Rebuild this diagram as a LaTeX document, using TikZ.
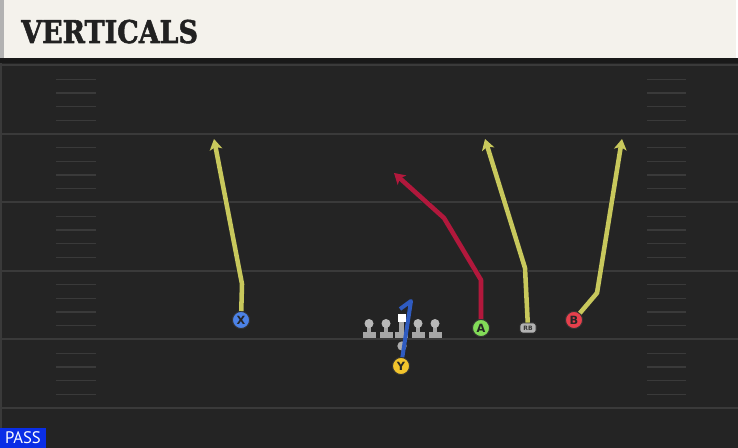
\documentclass[tikz,border=0pt]{standalone}
\usepackage{fontspec}
\usepackage{xcolor}
\usepackage{tikz}
\usetikzlibrary{calc,arrows.meta}
\newfontfamily\titlefont{DejaVu Serif}[UprightFont={* Bold}, FakeBold=1.8]
\newfontfamily\tagfont{PT Sans}
\newfontfamily\markfont{DejaVu Sans}

\definecolor{cream}{HTML}{F4F2EC}
\definecolor{turf}{HTML}{242424}
\definecolor{yardline}{HTML}{3A3A3A}
\definecolor{routeyel}{HTML}{C8C85C}
\definecolor{routered}{HTML}{B2183C}
\definecolor{routeblu}{HTML}{2F5BC0}
\definecolor{xblue}{HTML}{4C82E6}
\definecolor{agreen}{HTML}{82DC58}
\definecolor{bred}{HTML}{E6404C}
\definecolor{yyel}{HTML}{F2C42C}
\definecolor{passblue}{HTML}{0A2EE6}

\begin{document}
\begin{tikzpicture}[
x=0.75pt,y=-0.75pt,
line join=round,
route/.style={-{Stealth[length=8pt,width=9.5pt,inset=2pt]}, line width=3.4pt,
  preaction={draw=black!85, line width=4.4pt, -{Stealth[length=8pt,width=9.5pt,inset=2pt]}}},
yelroute/.style={route, routeyel},
redroute/.style={route, routered},
player/.style={circle, draw=black!80, line width=0.7pt, minimum size=12.8pt, inner sep=0pt,
  font=\markfont\bfseries\fontsize{8.5}{8.5}\selectfont, text=black!85},
back/.style={rectangle, rounded corners=2pt, draw=black!80, line width=0.6pt, fill=gray!60,
  minimum width=12pt, minimum height=7.5pt, inner sep=0pt,
  font=\markfont\bfseries\fontsize{4.5}{4.5}\selectfont, text=black!80},
hash/.style={yardline, line width=1pt},
]
\useasboundingbox (0,0) rectangle (738,448);

%field and header
\fill[turf] (0,58) rectangle (738,448);
\fill[black!90] (0,58) rectangle (738,63);
\fill[yardline] (0,63) rectangle (2,448);
\fill[cream] (0,0) rectangle (736,58);
\fill[gray!60] (0,0) rectangle (4,58);
\node(title)[anchor=base west, inner sep=0pt, xscale=0.86, text=black!87,
  font=\titlefont\fontsize{23.5}{23.5}\selectfont] at (21,43) {VERTICALS};

%yard lines and hashes
\foreach \k in {0,...,5}
  \draw[yardline, line width=1.5pt] (0,65.5+68.5*\k) -- (738,65.5+68.5*\k);
\foreach \k in {0,...,4}
  \foreach \i in {1,...,4}{
    \draw[hash] (56,65.5+68.5*\k+13.7*\i) -- (96,65.5+68.5*\k+13.7*\i);
    \draw[hash] (647,65.5+68.5*\k+13.7*\i) -- (686,65.5+68.5*\k+13.7*\i);
  }

%line
\foreach \x in {369,386,418,435}{
  \fill[gray!70] (\x-6.5,332.5) rectangle (\x+6.5,338.5);
  \fill[gray!70] (\x-2.2,325) rectangle (\x+2.2,334);
  \fill[gray!55] (\x,323.5) circle (4.5);
}
\fill[gray!70] (395,332.5) rectangle (408,338.5);
\fill[gray!70] (399.3,322) rectangle (403.7,334);

%players
\node(X)[player, fill=xblue]  at (241,320) {X};
\node(A)[player, fill=agreen] at (481,328) {A};
\node(B)[player, fill=bred]   at (574,320) {B};
\node(Y)[player, fill=yyel]   at (401,366) {Y};
\node(RB)[back]               at (528,328) {RB};
\node(ball)[circle, fill=gray!65, minimum size=7pt, inner sep=0pt] at (402,346) {};

%route points
\coordinate (Xbr) at (242,284);
\coordinate (Xend) at (214,139);
\coordinate (Abr) at (481,280);
\coordinate (Abr2) at (444,218);
\coordinate (Aend) at (394,173);
\coordinate (RBbr) at (525,268);
\coordinate (RBend) at (485,139);
\coordinate (Bbr) at (597,293);
\coordinate (Bend) at (622,139);
\coordinate (Ytop) at (411,301);
\coordinate (Yhook) at (400,309);

%routes
\draw[yelroute] (X) -- (Xbr) -- (Xend);
\draw[yelroute] (RB) -- (RBbr) -- (RBend);
\draw[yelroute] (B) -- (Bbr) -- (Bend);
\draw[redroute] (A) -- (Abr) -- (Abr2) -- (Aend);
\draw[routeblu, line width=3pt] (Y) -- (Ytop) -- (Yhook);
\node(C)[rectangle, fill=white, minimum size=6pt, inner sep=0pt] at (401.5,318) {};

%play type
\node(tag)[anchor=south west, fill=passblue, text=white, inner xsep=2pt, inner ysep=2pt,
  minimum width=34pt, minimum height=15pt, font=\tagfont\fontsize{12.5}{12.5}\selectfont] at (0,448) {PASS};

\end{tikzpicture}
\end{document}
